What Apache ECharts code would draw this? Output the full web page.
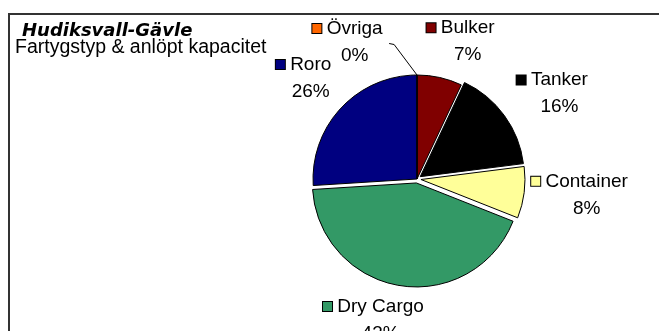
<!DOCTYPE html>
<html>
<head>
<meta charset="utf-8">
<script src="https://cdn.jsdelivr.net/npm/echarts@6/dist/echarts.min.js"></script>
<style>
  html, body { margin: 0; padding: 0; background: #fff; }
  #chart { width: 659px; height: 331px; }
</style>
</head>
<body>
<div id="chart"></div>
<script>
// Vessel types and their share of called capacity (%)
const categories = ['Bulker', 'Tanker', 'Container', 'Dry Cargo', 'Roro', 'Övriga'];
const shares = [7, 16, 8, 43, 26, 0];
const sliceColors = ['#800000', '#000000', '#FFFF99', '#339966', '#000080', '#FF6600'];
const exploded = [false, true, true, true, false, false];

// Pie geometry and label placement tuning (px)
const CX = 417, CY = 179, RADIUS = 104, LABEL_GAP = 11, EXPLODE = 4;
const labelNudge = [[11, -3], [13, -4.5], [0, -1.5], [-17.6, 4.7], [-9, -6.5], [-69.5, 1]];

const FONT = '"Liberation Sans", Arial, sans-serif';

// Mid angle of each slice, clockwise from 12 o'clock
const total = shares.reduce((a, b) => a + b, 0);
const midAngles = [];
let acc = 0;
shares.forEach(v => { midAngles.push((acc + v / 2) / total * 2 * Math.PI); acc += v; });

const rich = {
  t: { fontSize: 19, fontFamily: FONT, color: '#000', lineHeight: 27, align: 'center' },
  sp: { width: 9, height: 9, align: 'center' }
};
categories.forEach((c, i) => {
  rich['sq' + i] = {
    width: 9, height: 9, align: 'center',
    backgroundColor: sliceColors[i], borderColor: '#000', borderWidth: 1
  };
});

function placeLabel(p) {
  const i = p.dataIndex;
  const a = midAngles[i], s = Math.sin(a), c = Math.cos(a);
  const w = p.labelRect.width, h = p.labelRect.height;
  const x = CX + (RADIUS + LABEL_GAP) * s + s * w / 2 + labelNudge[i][0];
  const y = CY - (RADIUS + LABEL_GAP) * c - c * h / 2 + labelNudge[i][1];
  const out = { x: x, y: y, align: 'center', verticalAlign: 'middle' };
  if (shares[i] === 0) {
    // leader line from the pie rim to the label of an empty slice
    const ex = x + w / 2 + 6, ey = y + 1.5;
    out.labelLinePoints = [[CX + RADIUS * s, CY - RADIUS * c], [ex + 5, ey + 1], [ex, ey]];
  }
  return out;
}

// One pie layer; only the slices in `shown` are painted, the rest stay transparent
function pieLayer(center, shown) {
  return {
    type: 'pie',
    center: center,
    radius: RADIUS,
    startAngle: 90,
    clockwise: true,
    avoidLabelOverlap: false,
    silent: true,
    emphasis: { disabled: true },
    label: {
      position: 'outside',
      align: 'center',
      formatter: p => `{sq${p.dataIndex}|}{t| ${p.name}}\n{sp|}{t| ${Math.round(p.percent)}%}`,
      rich: rich
    },
    labelLine: { show: false, lineStyle: { color: '#000', width: 1 }, smooth: false },
    labelLayout: placeLabel,
    data: categories.map((name, i) => ({
      name: name,
      value: shares[i],
      itemStyle: shown(i)
        ? { color: sliceColors[i], borderColor: '#000', borderWidth: 1 }
        : { color: 'rgba(0,0,0,0)', borderWidth: 0 },
      label: { show: shown(i) },
      labelLine: { show: shown(i) && shares[i] === 0 }
    }))
  };
}

const series = [pieLayer([CX, CY], i => !exploded[i])];
exploded.forEach((ex, k) => {
  if (!ex) return;
  const a = midAngles[k];
  series.push(pieLayer([CX + EXPLODE * Math.sin(a), CY - EXPLODE * Math.cos(a)], i => i === k));
});

const chart = echarts.init(document.getElementById('chart'), null, { renderer: 'canvas' });
chart.setOption({
  animation: false,
  backgroundColor: '#fff',
  title: [
    {
      text: 'Hudiksvall-Gävle',
      left: 22, top: 22, padding: 0,
      textStyle: { fontFamily: '"DejaVu Sans", sans-serif', fontWeight: 'bold', fontStyle: 'italic', fontSize: 18, color: '#000' }
    },
    {
      text: 'Fartygstyp & anlöpt kapacitet',
      left: 15, top: 38, padding: 0,
      textStyle: { fontFamily: FONT, fontWeight: 'normal', fontSize: 19.5, color: '#000' }
    }
  ],
  graphic: [{
    type: 'rect',
    shape: { x: 9, y: 14, width: 700, height: 400 },
    style: { fill: 'none', stroke: '#333', lineWidth: 2 },
    silent: true
  }],
  series: series
});
</script>
</body>
</html>
